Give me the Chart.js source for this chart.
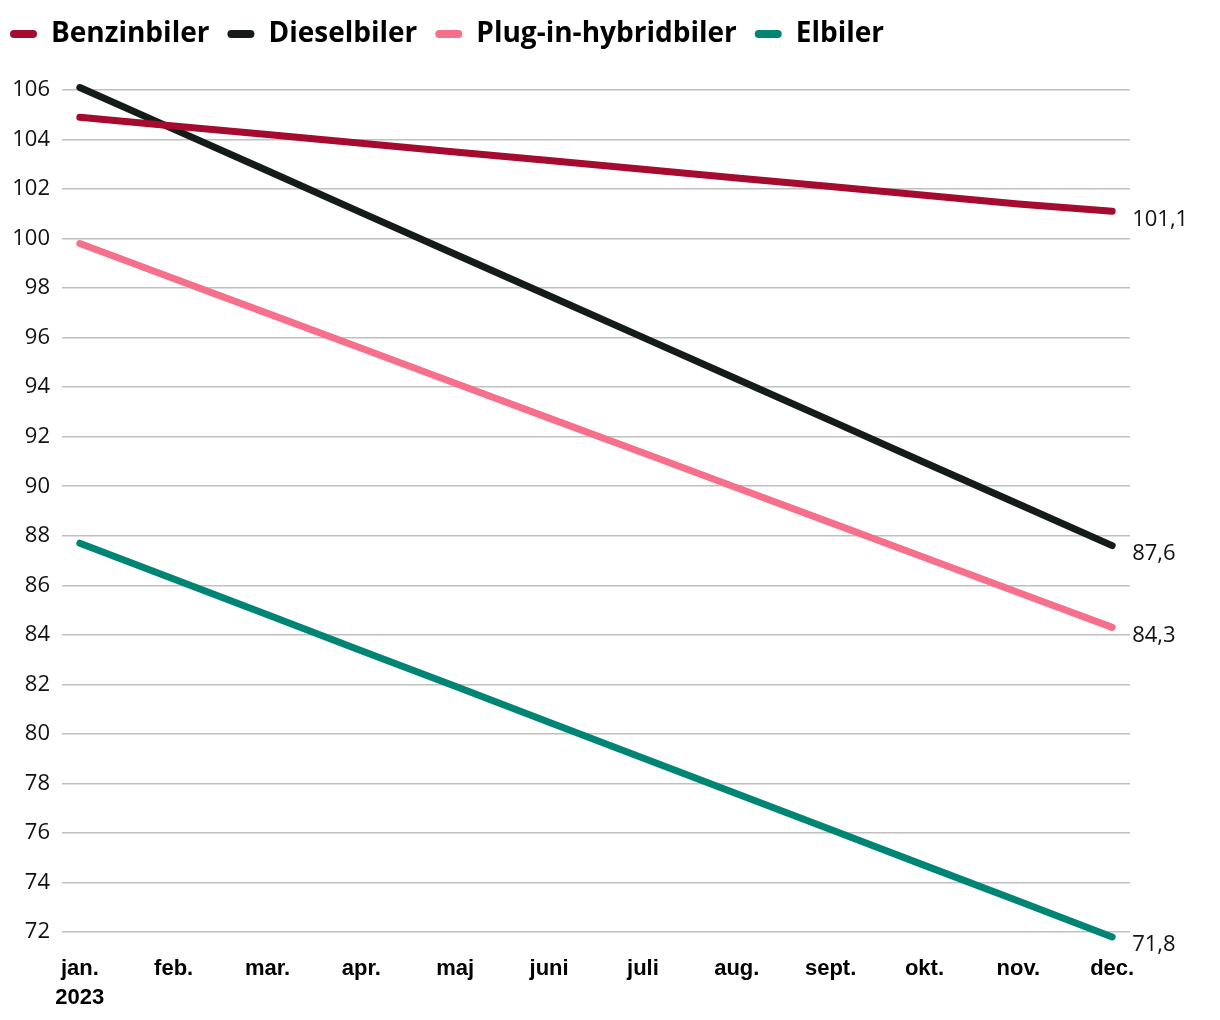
<!DOCTYPE html>
<html>
<head>
<meta charset="utf-8">
<script src="https://cdn.jsdelivr.net/npm/chart.js@4"></script>
<style>
  html, body { margin: 0; padding: 0; background: #ffffff; }
  #wrap { width: 1220px; height: 1020px; position: relative; }
</style>
</head>
<body>
<div id="wrap"><canvas id="c"></canvas></div>
<script>
const months = ['jan.', 'feb.', 'mar.', 'apr.', 'maj', 'juni', 'juli', 'aug.', 'sept.', 'okt.', 'nov.', 'dec.'];
const yearLabel = '2023';
const seriesNames = ['Benzinbiler', 'Dieselbiler', 'Plug-in-hybridbiler', 'Elbiler'];
const benzinbiler = [104.9, 104.55, 104.2, 103.85, 103.5, 103.15, 102.8, 102.45, 102.1, 101.75, 101.4, 101.1];
const dieselbiler = [106.1, 104.42, 102.74, 101.05, 99.37, 97.69, 96.01, 94.33, 92.65, 90.96, 89.28, 87.6];
const pluginHybridbiler = [99.8, 98.39, 96.98, 95.57, 94.16, 92.75, 91.35, 89.94, 88.53, 87.12, 85.71, 84.3];
const elbiler = [87.7, 86.25, 84.81, 83.36, 81.92, 80.47, 79.03, 77.58, 76.14, 74.69, 73.25, 71.8];
const yTicks = [72, 74, 76, 78, 80, 82, 84, 86, 88, 90, 92, 94, 96, 98, 100, 102, 104, 106];

const colors = ['#a50a2f', '#141c18', '#f7708b', '#008575'];
const seriesValues = [benzinbiler, dieselbiler, pluginHybridbiler, elbiler];

const datasets = seriesNames.map((name, i) => ({
  label: name,
  data: seriesValues[i].map((v, j) => ({ x: j, y: v })),
  borderColor: colors[i],
  backgroundColor: colors[i],
  borderWidth: 7,
  borderCapStyle: 'round',
  borderJoinStyle: 'round',
  pointRadius: 0,
  pointHoverRadius: 0,
  tension: 0,
  clip: false
}));

const endLabels = {
  id: 'endLabels',
  afterDatasetsDraw(chart) {
    const ctx = chart.ctx;
    ctx.save();
    ctx.font = '22px "Open Sans"';
    ctx.fillStyle = '#111111';
    ctx.textAlign = 'left';
    ctx.textBaseline = 'middle';
    chart.data.datasets.forEach((ds, i) => {
      const meta = chart.getDatasetMeta(i);
      const pt = meta.data[meta.data.length - 1];
      const v = ds.data[ds.data.length - 1].y;
      ctx.fillText(v.toFixed(1).replace('.', ','), pt.x + 20, pt.y + 8);
    });
    ctx.restore();
  }
};

const legendTweak = {
  id: 'legendTweak',
  beforeInit(chart) {
    const lg = chart.legend;
    if (lg) {
      const origFit = lg.fit;
      lg.fit = function () { origFit.call(this); this.height = 90; };
    }
  },
  afterLayout(chart) {
    if (chart.legend) {
      chart.legend.left -= 8;
      chart.legend.right -= 8;
      chart.legend.top += 2;
      chart.legend.bottom += 2;
    }
  }
};

new Chart(document.getElementById('c'), {
  type: 'line',
  data: { datasets },
  plugins: [endLabels, legendTweak],
  options: {
    responsive: true,
    maintainAspectRatio: false,
    animation: false,
    events: [],
    layout: { padding: { left: 0, right: 90, top: 0, bottom: 0 } },
    plugins: {
      tooltip: { enabled: false },
      legend: {
        position: 'top',
        align: 'start',
        labels: {
          font: { family: '"Open Sans"', size: 28, weight: 'bold' },
          color: '#000000',
          boxWidth: 27,
          boxHeight: 8,
          useBorderRadius: true,
          borderRadius: 4,
          padding: 18,
          generateLabels(chart) {
            return Chart.defaults.plugins.legend.labels.generateLabels(chart).map(l => ({
              ...l, fillStyle: l.strokeStyle, lineWidth: 0
            }));
          }
        }
      }
    },
    scales: {
      x: {
        type: 'linear',
        min: -0.19,
        max: 11.19,
        afterBuildTicks(scale) {
          scale.ticks = months.map((m, i) => ({ value: i }));
        },
        afterFit(scale) { scale.height = 88; },
        grid: { display: false, drawTicks: false },
        border: { display: false },
        ticks: {
          autoSkip: false,
          maxRotation: 0,
          padding: 23,
          color: '#000000',
          font: { family: '"Liberation Sans"', size: 22, weight: 'bold', lineHeight: 1.3 },
          callback(value) {
            const i = Math.round(value);
            return i === 0 ? [months[0], yearLabel] : months[i];
          }
        }
      },
      y: {
        min: 72,
        max: 106,
        afterBuildTicks(scale) {
          scale.ticks = yTicks.map(v => ({ value: v }));
        },
        afterFit(scale) { scale.width = 62; },
        grid: { color: '#c0c0c0', lineWidth: 1.5, drawTicks: false },
        border: { display: false },
        ticks: {
          padding: 12,
          color: '#111111',
          font: { family: '"Open Sans"', size: 22 }
        }
      }
    }
  }
});
</script>
</body>
</html>
